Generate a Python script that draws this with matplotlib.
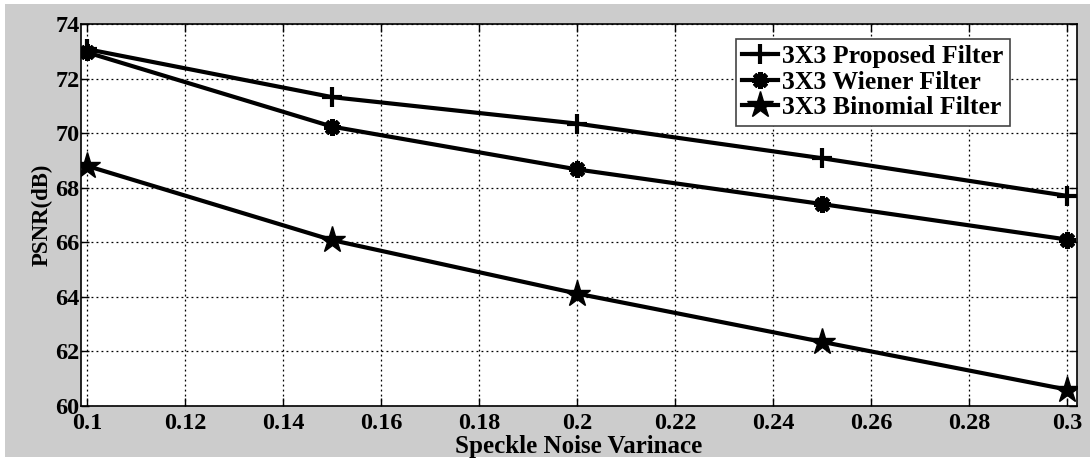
import matplotlib
matplotlib.use('Agg')
import matplotlib.pyplot as plt
from matplotlib.patches import Rectangle

plt.rcParams['font.family'] = 'Liberation Serif'
plt.rcParams['font.weight'] = 'bold'

# 데이터
variance = [0.1, 0.15, 0.2, 0.25, 0.3]
proposed = [73.08, 71.32, 70.35, 69.08, 67.70]
wiener = [72.96, 70.24, 68.67, 67.40, 66.10]
binomial = [68.80, 66.08, 64.12, 62.35, 60.60]

x_ticks = [0.1, 0.12, 0.14, 0.16, 0.18, 0.2, 0.22, 0.24, 0.26, 0.28, 0.3]
x_tick_labels = ['0.1', '0.12', '0.14', '0.16', '0.18', '0.2', '0.22', '0.24', '0.26', '0.28', '0.3']
y_ticks = [60, 62, 64, 66, 68, 70, 72, 74]

fig = plt.figure(figsize=(10.9, 4.59), dpi=100, facecolor='white')
# MATLAB 스타일 회색 배경
fig.patches.append(Rectangle((5 / 1090, 2 / 459), 1085 / 1090, 453 / 459,
                             transform=fig.transFigure, facecolor='#cccccc',
                             edgecolor='none', zorder=-10))

ax = fig.add_axes([81 / 1090, 53 / 459, 996 / 1090, 382 / 459])
ax.set_facecolor('white')

ax.plot(variance, proposed, color='black', linewidth=3, marker='+',
        markersize=14, markeredgewidth=3, label='3X3 Proposed Filter')
ax.plot(variance, wiener, color='black', linewidth=3, marker=(8, 2, 0),
        markersize=12, markeredgewidth=3.5, label='3X3 Wiener Filter')
ax.plot(variance, binomial, color='black', linewidth=3, marker='*',
        markersize=20, label='3X3 Binomial Filter')

ax.set_xlim(0.09878, 0.302)
ax.set_ylim(60, 74)
ax.set_xticks(x_ticks)
ax.set_xticklabels(x_tick_labels)
ax.set_yticks(y_ticks)
ax.tick_params(direction='in', labelsize=17.5, length=6, width=1,
               top=True, right=True, pad=1)
ax.tick_params(axis='x', pad=5)

ax.grid(True, color='black', linestyle=(0, (1.5, 2.5)), linewidth=0.9)
for s in ax.spines.values():
    s.set_linewidth(1.2)

ax.set_xlabel('Speckle Noise Varinace', fontsize=18, fontweight='bold', labelpad=1)
ax.set_ylabel('PSNR(dB)', fontsize=16.5, fontweight='bold', labelpad=2)

leg = ax.legend(loc='upper right', bbox_to_anchor=(0.9325, 0.962), fontsize=18.5,
                handlelength=1.4, handletextpad=0.15, borderpad=0.25,
                labelspacing=0.1, borderaxespad=0, fancybox=False, framealpha=1)
leg.get_frame().set_edgecolor('#444444')
leg.get_frame().set_linewidth(1.2)

plt.savefig('out.png', dpi=100, facecolor=fig.get_facecolor())
